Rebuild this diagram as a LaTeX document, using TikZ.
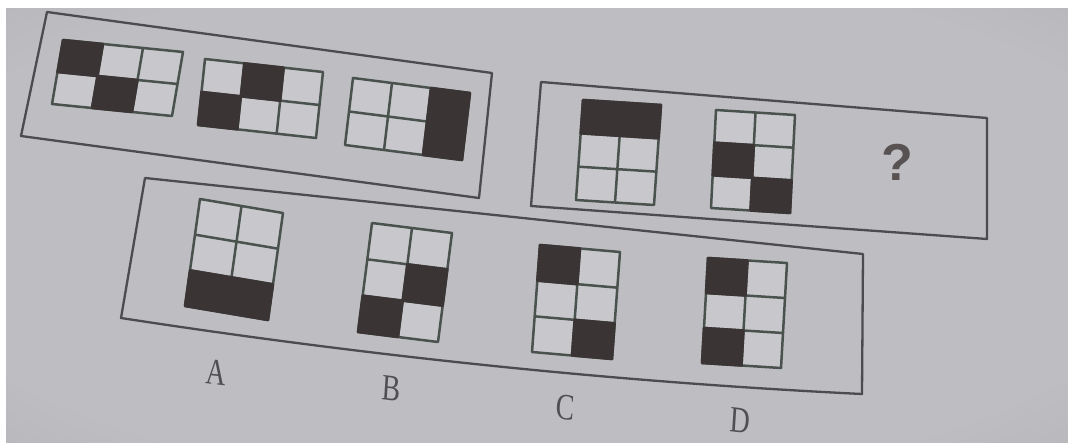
\documentclass[tikz,border=0pt]{standalone}
\usepackage{fontspec}
\setmainfont{Liberation Serif}
\newfontfamily\qfont{Liberation Sans}
\definecolor{ink}{HTML}{3B3434}
\definecolor{gridcol}{HTML}{4A524E}
\definecolor{boxcol}{HTML}{4C4C4E}
\definecolor{cellbg}{HTML}{C8C8CC}
\definecolor{bgin}{HTML}{BEBEC2}
\definecolor{bgout}{HTML}{96969A}
\definecolor{labcol}{HTML}{505052}
\pgfdeclareradialshading{vign}{\pgfpoint{0bp}{0bp}}{color(0bp)=(bgin); color(30bp)=(bgin); color(74bp)=(bgout)}
\tikzset{
  boxstyle/.style={draw=boxcol, line width=2.3pt},
  gridlines/.style={draw=gridcol, line width=2.5pt},
  blkcell/.style={fill=ink, draw=ink, line width=2.5pt},
  letter/.style={font=\fontsize{37}{42}\selectfont, text=labcol, xscale=0.75, rotate=-5, inner sep=0pt},
}
\newcommand\gridwide{% 3 columns, 2 rows
  \fill[cellbg] (0,0)--(1,0)--(1,1)--(0,1)--cycle;
  \draw[gridlines] (0,0)--(1,0)--(1,1)--(0,1)--cycle (1/3,0)--(1/3,1) (2/3,0)--(2/3,1) (0,0.5)--(1,0.5);}
\newcommand\gridtall{% 2 columns, 3 rows
  \fill[cellbg] (0,0)--(1,0)--(1,1)--(0,1)--cycle;
  \draw[gridlines] (0,0)--(1,0)--(1,1)--(0,1)--cycle (0.5,0)--(0.5,1) (0,1/3)--(1,1/3) (0,2/3)--(1,2/3);}
\newcommand\blk[4]{\filldraw[blkcell] (#1,#2)--(#3,#2)--(#3,#4)--(#1,#4)--cycle;}
\begin{document}
\begin{tikzpicture}[x=1pt,y=-1pt,line join=round]
\useasboundingbox (0,0) rectangle (1068,443);
\fill[white] (0,0) rectangle (1068,443);
\shade[shading=vign] (6,9) rectangle (1068,443);

% group boxes
\draw[boxstyle] (47,12)--(492,73)--(479,198)--(21,136)--cycle;
\draw[boxstyle] (541,82)--(987,118)--(987,239)--(531,206)--cycle;
\draw[boxstyle] (121,318)--(145,178)--(863,254)--(862,394) .. controls (615,382) and (368,356) .. (121,318)--cycle;

% top-left group
\begin{scope}[shift={(63,40)},x={(120pt,-12pt)},y={(-11pt,-64pt)}]
  \gridwide \blk{0}{0}{1/3}{0.5} \blk{1/3}{0.5}{2/3}{1}
\end{scope}
\begin{scope}[shift={(205,59)},x={(118pt,-13pt)},y={(-7pt,-66pt)}]
  \gridwide \blk{1/3}{0}{2/3}{0.5} \blk{0}{0.5}{1/3}{1}
\end{scope}
\begin{scope}[shift={(353,78)},x={(117pt,-15pt)},y={(-8pt,-67pt)}]
  \gridwide \blk{2/3}{0}{1}{1}
\end{scope}

% top-right group
\begin{scope}[shift={(583,100)},x={(78pt,-5pt)},y={(-7pt,-100pt)}]
  \gridtall \blk{0}{0}{1}{1/3}
\end{scope}
\begin{scope}[shift={(716,110)},x={(79pt,-5pt)},y={(-5pt,-98pt)}]
  \gridtall \blk{0}{1/3}{0.5}{2/3} \blk{0.5}{2/3}{1}{1}
\end{scope}
\node[font=\qfont\bfseries\fontsize{52}{60}\selectfont, text=ink!85, inner sep=0pt] (q) at (897,162) {?};

% answer group
\begin{scope}[shift={(200,199)},x={(83pt,-14pt)},y={(-15pt,-107pt)}]
  \gridtall \blk{0}{2/3}{1}{1}
\end{scope}
\begin{scope}[shift={(372,223)},x={(80pt,-10pt)},y={(-14pt,-109pt)}]
  \gridtall \blk{0.5}{1/3}{1}{2/3} \blk{0}{2/3}{0.5}{1}
\end{scope}
\begin{scope}[shift={(540,245)},x={(80pt,-7pt)},y={(-8pt,-107pt)}]
  \gridtall \blk{0}{0}{0.5}{1/3} \blk{0.5}{2/3}{1}{1}
\end{scope}
\begin{scope}[shift={(708,258)},x={(79pt,-5pt)},y={(-6pt,-105pt)}]
  \gridtall \blk{0}{0}{0.5}{1/3} \blk{0}{2/3}{0.5}{1}
\end{scope}

\node[letter] (la) at (216,372) {A};
\node[letter] (lb) at (392,389) {B};
\node[letter] (lc) at (566,408) {C};
\node[letter] (ld) at (740,421) {D};
\end{tikzpicture}
\end{document}
